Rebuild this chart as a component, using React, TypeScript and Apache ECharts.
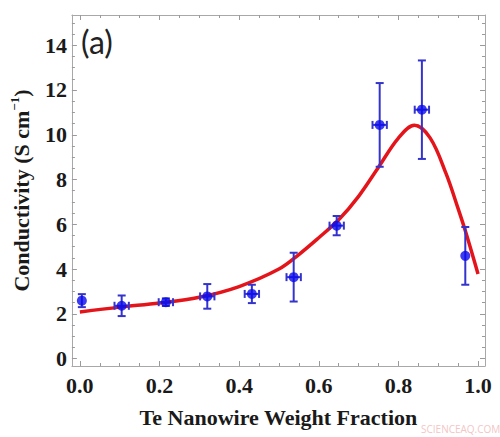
import React, { useEffect, useRef } from "react";
import * as echarts from "echarts";

// Measured data points
const xVals = [0.005, 0.105, 0.216, 0.32, 0.432, 0.537, 0.645, 0.753, 0.859, 0.968];
const yVals = [2.59, 2.36, 2.52, 2.78, 2.89, 3.64, 5.94, 10.44, 11.12, 4.59];
const yErr = [0.29, 0.46, 0.17, 0.55, 0.41, 1.09, 0.43, 1.87, 2.2, 1.29];
const xErr = [0.0, 0.018, 0.018, 0.018, 0.018, 0.018, 0.018, 0.018, 0.018, 0.0];

// Fitted curve
const fitX = [0.0, 0.1, 0.2, 0.3, 0.4, 0.5, 0.55, 0.6, 0.65, 0.7, 0.75, 0.8, 0.84, 0.88, 0.92, 0.95, 0.97, 1.0];
const fitY = [2.08, 2.3, 2.48, 2.74, 3.22, 4.0, 4.65, 5.4, 6.2, 7.25, 8.55, 9.85, 10.42, 9.85, 8.25, 6.7, 5.6, 3.78];

// Ticks
const xMajor = [0, 0.2, 0.4, 0.6, 0.8, 1.0];
const xMinor = [0.05, 0.1, 0.15, 0.25, 0.3, 0.35, 0.45, 0.5, 0.55, 0.65, 0.7, 0.75, 0.85, 0.9, 0.95];
const yMajor = [0, 2, 4, 6, 8, 10, 12, 14];
const yMinor = [0.5, 1, 1.5, 2.5, 3, 3.5, 4.5, 5, 5.5, 6.5, 7, 7.5, 8.5, 9, 9.5, 10.5, 11, 11.5, 12.5, 13, 13.5, 14.5, 15];

const X_MIN = -0.02;
const X_MAX = 1.0175;
const Y_MIN = -0.33;
const Y_MAX = 15.35;

const FRAME = "#a8a8a8";
const TICK = "#9a9a9a";
const LABEL_FONT = {
  fontFamily: "Liberation Serif",
  fontWeight: "bold" as const,
  color: "#1a1a1a",
};

function makeAxis(kind: "x" | "y", pos: string, ticks: number[], len: number, withLabels: boolean, showLine: boolean) {
  const isX = kind === "x";
  return {
    type: "value",
    position: pos,
    min: isX ? X_MIN : Y_MIN,
    max: isX ? X_MAX : Y_MAX,
    splitLine: { show: false },
    axisLine: { show: showLine, onZero: false, lineStyle: { color: FRAME, width: 1 } },
    axisTick: { show: true, inside: true, length: len, customValues: ticks, lineStyle: { color: TICK, width: 1 } },
    axisLabel: withLabels
      ? {
          show: true,
          customValues: ticks,
          ...LABEL_FONT,
          fontSize: 22,
          margin: isX ? 8 : 5,
          formatter: (v: number) => (isX ? v.toFixed(1) : String(Math.round(v))),
        }
      : { show: false },
  };
}

export default function App() {
  const ref = useRef<HTMLDivElement>(null);

  useEffect(() => {
    if (!ref.current) return;
    const chart = echarts.init(ref.current, undefined, { renderer: "svg" });

    const xAxes: any[] = [
      {
        ...makeAxis("x", "bottom", xMajor, 5, true, true),
        name: "Te Nanowire Weight Fraction",
        nameLocation: "middle",
        nameGap: 40,
        nameTextStyle: { ...LABEL_FONT, fontSize: 22 },
      },
      makeAxis("x", "bottom", xMinor, 3, false, false),
      makeAxis("x", "top", xMajor, 5, false, true),
      makeAxis("x", "top", xMinor, 3, false, false),
    ];
    const yAxes: any[] = [
      {
        ...makeAxis("y", "left", yMajor, 5, true, true),
        name: "Conductivity (S cm{sup|−1})",
        nameLocation: "middle",
        nameGap: 33,
        nameRotate: 90,
        nameTextStyle: {
          ...LABEL_FONT,
          fontSize: 22,
          lineHeight: 26,
          rich: {
            sup: { ...LABEL_FONT, fontSize: 13, verticalAlign: "top", lineHeight: 13, padding: [0, 0, 10, 0] },
          },
        },
      },
      makeAxis("y", "left", yMinor, 3, false, false),
      makeAxis("y", "right", yMajor, 5, false, true),
      makeAxis("y", "right", yMinor, 3, false, false),
    ];

    const errData = xVals.map((x, i) => [x, yVals[i], yErr[i], xErr[i]]);

    chart.setOption({
      animation: false,
      backgroundColor: "#ffffff",
      grid: { left: 70, right: 15, top: 15, bottom: 71, containLabel: false },
      xAxis: xAxes,
      yAxis: yAxes,
      graphic: [
        {
          type: "text",
          left: 81,
          top: 25,
          style: { text: "(a)", font: "32px Lato", fill: "#222222" },
        },
        {
          type: "text",
          left: 421,
          top: 424,
          style: { text: "SCIENCEAQ.COM", font: "10px 'Open Sans'", fill: "#f3c6c6" },
        },
      ],
      series: [
        {
          type: "line",
          xAxisIndex: 0,
          yAxisIndex: 0,
          data: fitX.map((x, i) => [x, fitY[i]]),
          smooth: 0.35,
          showSymbol: false,
          symbol: "none",
          lineStyle: { color: "#e4141b", width: 3.5 },
          z: 2,
        },
        {
          type: "custom",
          xAxisIndex: 0,
          yAxisIndex: 0,
          data: errData,
          z: 3,
          renderItem: (params: any, api: any) => {
            const x = api.value(0);
            const y = api.value(1);
            const ye = api.value(2);
            const xe = api.value(3);
            const top = api.coord([x, y + ye]);
            const bot = api.coord([x, y - ye]);
            const style = { stroke: "#3434cc", lineWidth: 2 };
            const cap = 4;
            const children: any[] = [
              { type: "line", shape: { x1: top[0], y1: top[1], x2: bot[0], y2: bot[1] }, style },
              { type: "line", shape: { x1: top[0] - cap, y1: top[1], x2: top[0] + cap, y2: top[1] }, style },
              { type: "line", shape: { x1: bot[0] - cap, y1: bot[1], x2: bot[0] + cap, y2: bot[1] }, style },
            ];
            if (xe > 0) {
              const l = api.coord([x - xe, y]);
              const r = api.coord([x + xe, y]);
              children.push(
                { type: "line", shape: { x1: l[0], y1: l[1], x2: r[0], y2: r[1] }, style },
                { type: "line", shape: { x1: l[0], y1: l[1] - cap, x2: l[0], y2: l[1] + cap }, style },
                { type: "line", shape: { x1: r[0], y1: r[1] - cap, x2: r[0], y2: r[1] + cap }, style }
              );
            }
            return { type: "group", children };
          },
        },
        {
          type: "scatter",
          xAxisIndex: 0,
          yAxisIndex: 0,
          data: xVals.map((x, i) => [x, yVals[i]]),
          symbol: "circle",
          symbolSize: 10,
          itemStyle: { color: "#0a0aee" },
          z: 4,
        },
      ],
    });

    return () => chart.dispose();
  }, []);

  return (
    <div
      ref={ref}
      style={{ position: "fixed", left: 0, top: 0, width: 500, height: 437, background: "#fff" }}
    />
  );
}
